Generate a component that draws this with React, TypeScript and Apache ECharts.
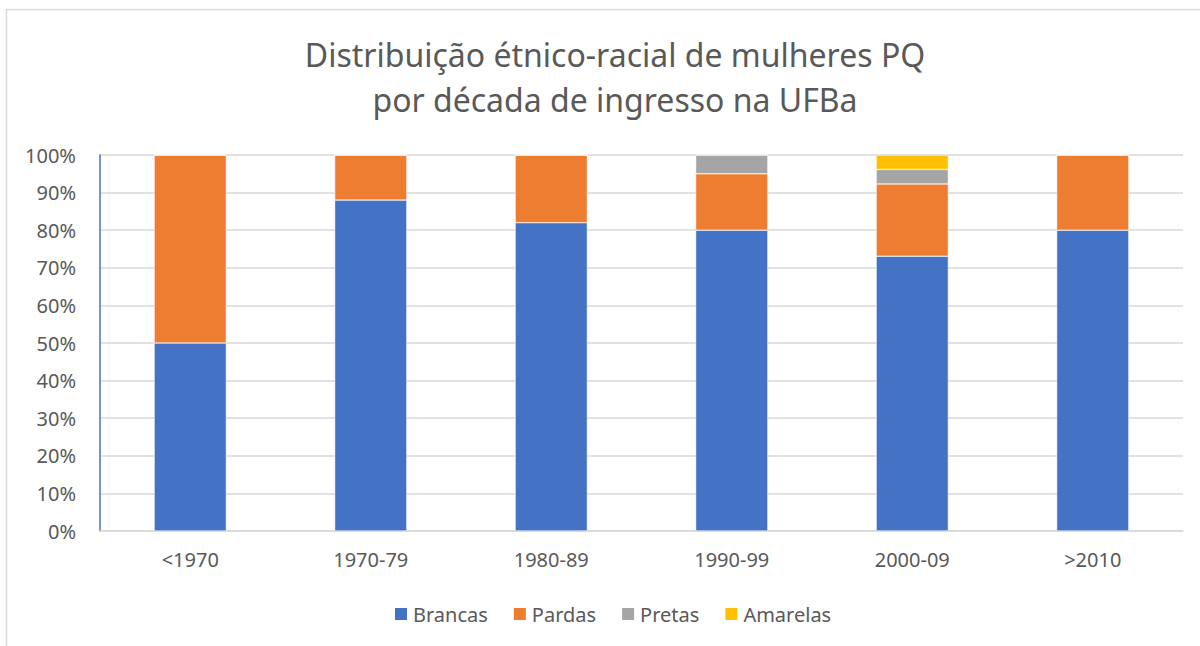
import React, { useEffect, useRef } from "react";
import * as echarts from "echarts";

const categories = ["<1970", "1970-79", "1980-89", "1990-99", "2000-09", ">2010"];
const brancas = [50, 88, 82, 80, 73.1, 80];
const pardas = [50, 12, 18, 15, 19.2, 20];
const pretas = [0, 0, 0, 5, 3.85, 0];
const amarelas = [0, 0, 0, 0, 3.85, 0];
const seriesNames = ["Brancas", "Pardas", "Pretas", "Amarelas"];
const colors = ["#4472C4", "#ED7D31", "#A5A5A5", "#FFC000"];

const FONT = "'Noto Sans', 'Open Sans', sans-serif";
const TXT = "#595959";

export default function App() {
  const ref = useRef<HTMLDivElement>(null);
  useEffect(() => {
    const chart = echarts.init(ref.current!, null, { renderer: "svg" });
    const data = [brancas, pardas, pretas, amarelas];
    chart.setOption({
      animation: false,
      backgroundColor: "#ffffff",
      textStyle: { fontFamily: FONT },
      graphic: [
        {
          type: "rect",
          shape: { x: 6.5, y: 9.5, width: 1300, height: 700 },
          style: { fill: "none", stroke: "#D9D9D9", lineWidth: 1.5 },
          silent: true,
        },
      ],
      title: {
        text: "Distribuição étnico-racial de mulheres PQ\npor década de ingresso na UFBa",
        left: 610,
        textAlign: "center",
        top: 27,
        textStyle: {
          fontFamily: FONT,
          fontSize: 32,
          fontWeight: "normal",
          color: TXT,
          lineHeight: 45,
        },
      },
      legend: {
        data: seriesNames,
        top: 599,
        left: 388,
        itemWidth: 14,
        itemHeight: 14,
        itemGap: 24,
        icon: "rect",
        textStyle: { fontFamily: FONT, fontSize: 20, color: TXT },
      },
      grid: { left: 100, right: 17, top: 155, bottom: 115, containLabel: false },
      xAxis: {
        type: "category",
        data: categories,
        axisLine: { show: true, lineStyle: { color: "#D9D9D9", width: 1.5 } },
        axisTick: { show: false },
        axisLabel: { fontFamily: FONT, fontSize: 20, color: TXT, margin: 18 },
      },
      yAxis: {
        type: "value",
        min: 0,
        max: 100,
        interval: 10,
        axisLine: { show: true, lineStyle: { color: "#4472C4", width: 1.5 } },
        axisTick: { show: false },
        splitLine: { lineStyle: { color: "#D9D9D9", width: 1.5 } },
        axisLabel: {
          fontFamily: FONT,
          fontSize: 20,
          color: TXT,
          margin: 24,
          formatter: (v: number) => v + "%",
        },
      },
      series: seriesNames.map((name, i) => ({
        name,
        type: "bar",
        stack: "total",
        barWidth: "40%",
        data: data[i],
        itemStyle: { color: colors[i], borderColor: "#ffffff", borderWidth: 0.5 },
      })),
    });
    return () => chart.dispose();
  }, []);
  return <div ref={ref} style={{ width: 1200, height: 646, position: "absolute", left: 0, top: 0 }} />;
}
